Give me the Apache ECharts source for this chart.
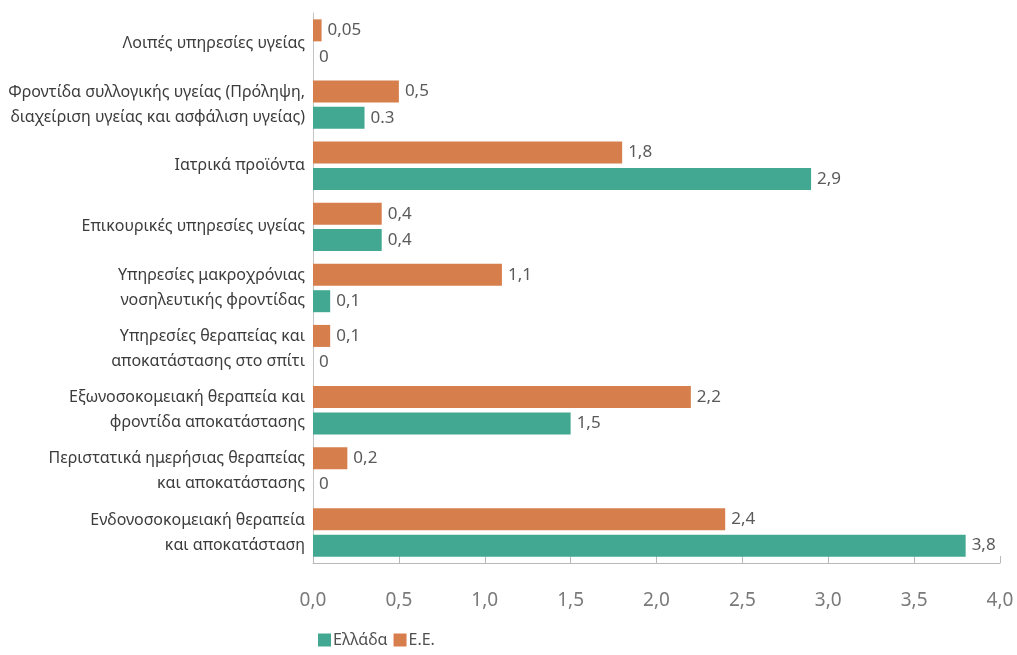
<!DOCTYPE html>
<html>
<head>
<meta charset="utf-8">
<script src="https://cdn.jsdelivr.net/npm/echarts@6/dist/echarts.min.js"></script>
<style>
  html, body { margin: 0; padding: 0; background: #ffffff; }
  #chart { width: 1017px; height: 655px; }
</style>
</head>
<body>
<div id="chart"></div>
<script>
// Health expenditure by function, % of GDP: Greece vs EU
const categories = [
  'Λοιπές υπηρεσίες υγείας',
  'Φροντίδα συλλογικής υγείας (Πρόληψη,\nδιαχείριση υγείας και ασφάλιση υγείας)',
  'Ιατρικά προϊόντα',
  'Επικουρικές υπηρεσίες υγείας',
  'Υπηρεσίες μακροχρόνιας\nνοσηλευτικής φροντίδας',
  'Υπηρεσίες θεραπείας και\nαποκατάστασης στο σπίτι',
  'Εξωνοσοκομειακή θεραπεία και\nφροντίδα αποκατάστασης',
  'Περιστατικά ημερήσιας θεραπείας\nκαι αποκατάστασης',
  'Ενδονοσοκομειακή θεραπεία\nκαι αποκατάσταση'
];
const greece = [0, 0.3, 2.9, 0.4, 0.1, 0, 1.5, 0, 3.8];
const eu = [0.05, 0.5, 1.8, 0.4, 1.1, 0.1, 2.2, 0.2, 2.4];
const greeceLabels = ['0', '0.3', '2,9', '0,4', '0,1', '0', '1,5', '0', '3,8'];
const xTicks = [0, 0.5, 1, 1.5, 2, 2.5, 3, 3.5, 4];

const comma = v => String(v).replace('.', ',');
const FONT = 'Noto Sans';

const chart = echarts.init(document.getElementById('chart'));
chart.setOption({
  backgroundColor: '#ffffff',
  textStyle: { fontFamily: FONT },
  animation: false,
  grid: { left: 313, right: 17, top: 13, bottom: 92, containLabel: false },
  legend: {
    data: ['Ελλάδα', 'Ε.Ε.'],
    left: 313,
    top: 627,
    itemWidth: 13,
    itemHeight: 13,
    itemGap: 6,
    icon: 'rect',
    textStyle: { fontFamily: FONT, fontSize: 16, color: '#505050', padding: [0, 0, 0, -3] }
  },
  xAxis: {
    type: 'value',
    min: 0,
    max: 4,
    interval: 0.5,
    axisLine: { show: true, lineStyle: { color: '#b8b8b8', width: 1 } },
    axisTick: { show: true, inside: true, length: 7, lineStyle: { color: '#b8b8b8' } },
    splitLine: { show: false },
    axisLabel: {
      margin: 28,
      fontSize: 19,
      color: '#7a7a7a',
      fontFamily: FONT,
      formatter: v => xTicks.includes(v) ? v.toFixed(1).replace('.', ',') : ''
    }
  },
  yAxis: {
    type: 'category',
    inverse: true,
    data: categories,
    axisLine: { show: true, lineStyle: { color: '#c4c4c4', width: 1 } },
    axisTick: { show: false },
    axisLabel: {
      margin: 8,
      fontSize: 16,
      lineHeight: 25,
      color: '#3c3c3c',
      fontFamily: FONT,
      align: 'right'
    }
  },
  series: [
    {
      name: 'Ε.Ε.',
      type: 'bar',
      data: eu,
      barWidth: 22,
      barGap: '20%',
      itemStyle: { color: '#d67f4c' },
      label: {
        show: true,
        position: 'right',
        distance: 6,
        fontSize: 17,
        color: '#5a5a5a',
        fontFamily: FONT,
        formatter: p => comma(p.value)
      }
    },
    {
      name: 'Ελλάδα',
      type: 'bar',
      data: greece,
      barWidth: 22,
      barGap: '20%',
      itemStyle: { color: '#42a891' },
      label: {
        show: true,
        position: 'right',
        distance: 6,
        fontSize: 17,
        color: '#5a5a5a',
        fontFamily: FONT,
        formatter: p => greeceLabels[p.dataIndex]
      }
    }
  ]
});
</script>
</body>
</html>
